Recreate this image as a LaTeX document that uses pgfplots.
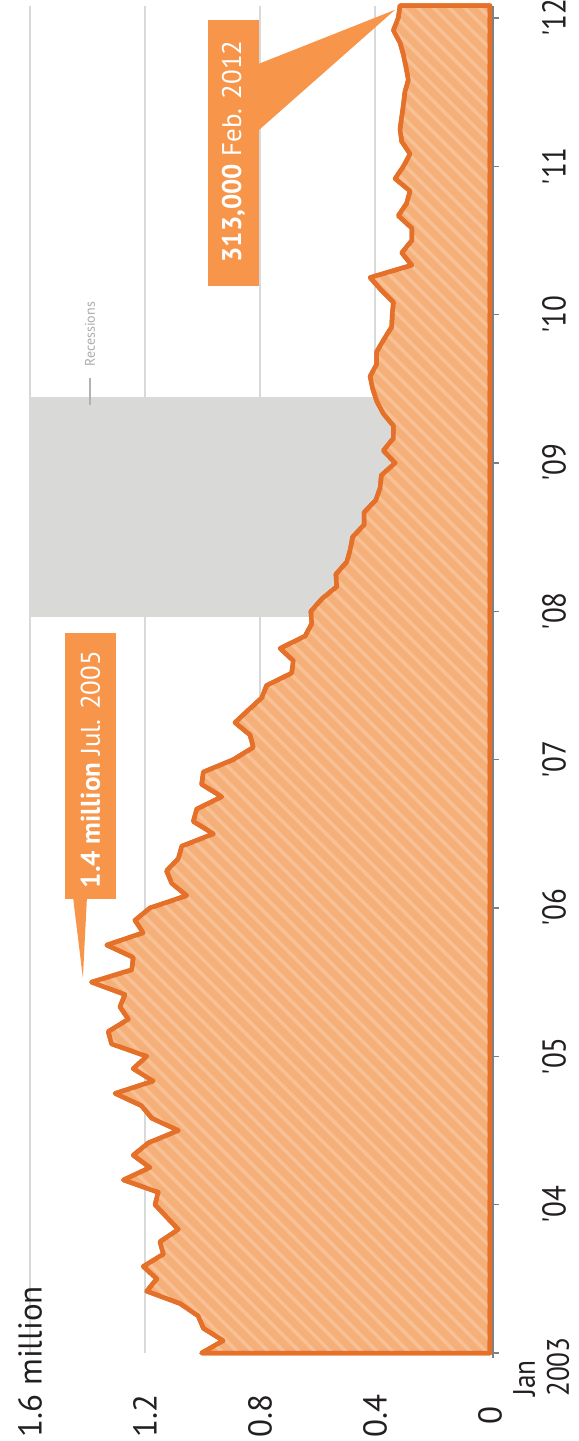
\documentclass[border=0pt]{standalone}
\usepackage{fontspec}
\setmainfont{PT Sans}
\newfontfamily\cond[FakeStretch=0.88]{PT Sans}
\usepackage{pgfplots}
\pgfplotsset{compat=1.18}
\usetikzlibrary{patterns.meta,calc}
\definecolor{lineor}{HTML}{E4702A}
\definecolor{fillor}{HTML}{F5B07A}
\definecolor{stripeor}{HTML}{F8C095}
\definecolor{boxor}{HTML}{F7964A}
\definecolor{recgray}{HTML}{D9D9D8}
\definecolor{gridgray}{HTML}{D9D9D9}
\definecolor{txt}{HTML}{231F20}
\begin{document}
\begin{tikzpicture}
\begin{axis}[
  scale only axis, width=460bp, height=1347.4bp,
  xmin=0, xmax=1.6, ymin=0, ymax=109,
  x dir=reverse,
  clip=false,
  axis line style={draw=none},
  xtick={0,0.4,0.8,1.2,1.6},
  xticklabels={0,0.4,0.8,1.2,{1.6\rlap{ million}}},
  xtick style={draw=none},
  xmajorgrids, grid style={gridgray, line width=1.5bp},
  xticklabel style={yshift=-54bp, rotate=90, anchor=center, font=\fontsize{33bp}{38bp}\selectfont, text=txt},
  ytick={0,12,...,108},
  yticklabels={,'04,'05,'06,'07,'08,'09,'10,'11,'12},
  ytick pos=right, yticklabel pos=right,
  tick align=outside, major tick length=9bp,
  ytick style={draw=gray, line width=1.5bp},
  yticklabel style={xshift=55bp, rotate=90, anchor=center, font=\cond\fontsize{33bp}{38bp}\selectfont, text=txt},
]
% recession band Dec 2007 - Jun 2009
\addplot[draw=none, fill=recgray] coordinates {(0,59.55) (1.6,59.55) (1.6,77.35) (0,77.35)} -- cycle;
% new home sales, millions, monthly Jan 2003 (0) - Feb 2012 (109)
\addplot[draw=lineor, line width=4.5bp, line join=round, preaction={fill=fillor},
  pattern={Lines[angle=-45,distance=11bp,line width=3.5bp]}, pattern color=stripeor]
coordinates {
(0,0)
(1.003,0) (0.928,1) (0.997,2) (1.015,3) (1.078,4) (1.194,5) (1.159,6) (1.206,7) (1.136,8) (1.148,9)
(1.084,10) (1.125,11) (1.165,12) (1.154,13) (1.275,14) (1.183,15) (1.241,16) (1.188,17) (1.084,18) (1.177,19)
(1.212,20) (1.304,21) (1.171,22) (1.241,23) (1.194,24) (1.316,25) (1.328,26) (1.258,27) (1.287,28) (1.270,29)
(1.386,30) (1.246,31) (1.241,32) (1.333,33) (1.206,34) (1.235,35) (1.183,36) (1.055,37) (1.107,38) (1.125,39)
(1.084,40) (1.072,41) (0.962,42) (1.032,43) (1.020,44) (0.933,45) (1.003,46) (0.997,47) (0.893,48) (0.823,49)
(0.835,50) (0.887,51) (0.841,52) (0.794,53) (0.777,54) (0.690,55) (0.684,56) (0.730,57) (0.643,58) (0.620,59)
(0.623,60) (0.585,61) (0.533,62) (0.536,63) (0.498,64) (0.486,65) (0.478,66) (0.438,67) (0.438,68) (0.397,69)
(0.382,70) (0.378,71) (0.330,72) (0.371,73) (0.336,74) (0.336,75) (0.371,76) (0.394,77) (0.408,78) (0.417,79)
(0.394,80) (0.394,81) (0.369,82) (0.342,83) (0.340,84) (0.336,85) (0.379,86) (0.417,87) (0.272,88) (0.307,89)
(0.272,90) (0.272,91) (0.319,92) (0.290,93) (0.278,94) (0.330,95) (0.301,96) (0.278,97) (0.307,98) (0.313,99)
(0.307,100) (0.301,101) (0.296,102) (0.284,103) (0.292,104) (0.301,105) (0.313,106) (0.336,107) (0.319,108) (0.313,109)
(0,109)
} -- cycle;
\draw[gray, line width=1.5bp, xshift=3bp] (axis cs:0,-0.4) -- (axis cs:0,109);
% annotations
\fill[boxor] (axis cs:1.478,36.73) rectangle (axis cs:1.301,58.25);
\fill[boxor] (axis cs:1.450,36.8) -- (axis cs:1.402,36.8) -- (axis cs:1.416,30.34) -- cycle;
\node[rotate=90, text=white, font=\fontsize{27bp}{30bp}\selectfont] at (axis cs:1.39,47.2) {\textbf{1.4 million} Jul. 2005};
\fill[boxor] (axis cs:0.981,86.33) rectangle (axis cs:0.803,107.85);
\fill[boxor] (axis cs:0.803,104.3) -- (axis cs:0.330,108.66) -- (axis cs:0.803,98.95) -- cycle;
\node[rotate=90, text=white, font=\fontsize{27bp}{30bp}\selectfont] at (axis cs:0.892,97.2) {\textbf{313,000} Feb. 2012};
\draw[gray!60, line width=1.3bp] (axis cs:1.391,76.7) -- (axis cs:1.391,78.9);
\node[rotate=90, anchor=west, inner sep=0pt, text=gray!65, font=\fontsize{14bp}{16bp}\selectfont] at (axis cs:1.391,79.8) {Recessions};
\node[xshift=23bp, yshift=-44bp, rotate=90, anchor=north west, align=left, inner sep=0pt, text=txt, font=\cond\fontsize{31bp}{34bp}\selectfont] at (axis cs:0,0) {Jan\\2003};
\coordinate (BR) at (axis cs:0,0);
\coordinate (TL) at (axis cs:1.6,109);
\end{axis}
\pgfresetboundingbox
\path[use as bounding box] ($(TL)+(-30bp,5.6bp)$) rectangle ($(BR)+(89bp,-88bp)$);
\end{tikzpicture}
\end{document}
